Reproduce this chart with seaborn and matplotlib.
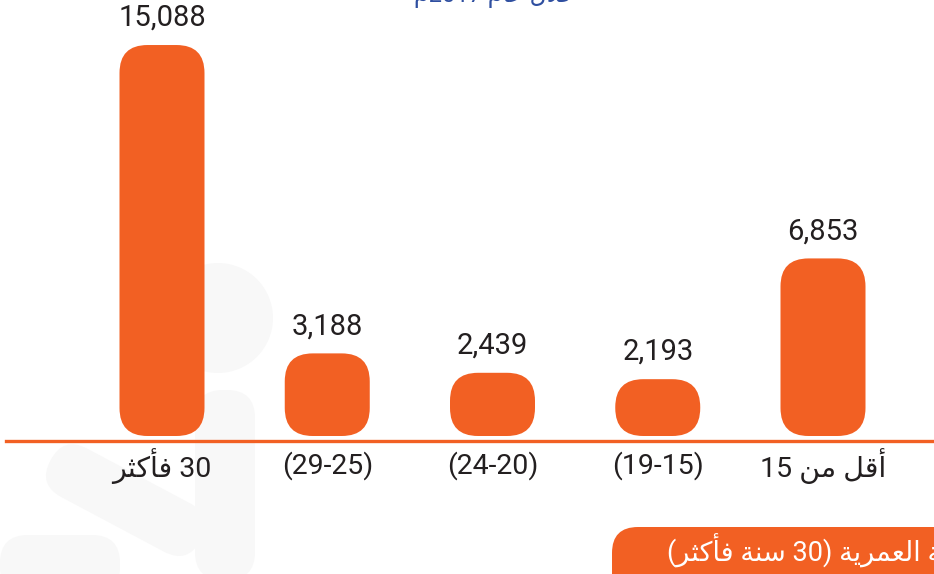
import matplotlib
matplotlib.use("Agg")
import matplotlib.pyplot as plt
from matplotlib.patches import FancyBboxPatch, Circle
from matplotlib.lines import Line2D
import matplotlib.transforms as mtransforms
import seaborn as sns
import pandas as pd

# ---------------- data ----------------
categories = ["30 فأكثر", "(25-29)", "(20-24)", "(15-19)", "أقل من 15"]
values = [15088, 3188, 2439, 2193, 6853]
title_text = "خلال عام 2017م"
pill_text = "الفئة العمرية (30 سنة فأكثر)"

ORANGE = "#F26023"
BLUE = "#2F4FA0"
DARK = "#231F20"

# -------- minimal Arabic shaping (presentation forms, visual order) --------
FORMS = {
    "ا": ("\uFE8D", "\uFE8E", None, None),
    "أ": ("\uFE83", "\uFE84", None, None),
    "ة": ("\uFE93", "\uFE94", None, None),
    "ر": ("\uFEAD", "\uFEAE", None, None),
    "ل": ("\uFEDD", "\uFEDE", "\uFEDF", "\uFEE0"),
    "ف": ("\uFED1", "\uFED2", "\uFED3", "\uFED4"),
    "ئ": ("\uFE89", "\uFE8A", "\uFE8B", "\uFE8C"),
    "ع": ("\uFEC9", "\uFECA", "\uFECB", "\uFECC"),
    "م": ("\uFEE1", "\uFEE2", "\uFEE3", "\uFEE4"),
    "ي": ("\uFEF1", "\uFEF2", "\uFEF3", "\uFEF4"),
    "ك": ("\uFED9", "\uFEDA", "\uFEDB", "\uFEDC"),
    "ث": ("\uFE99", "\uFE9A", "\uFE9B", "\uFE9C"),
    "س": ("\uFEB1", "\uFEB2", "\uFEB3", "\uFEB4"),
    "ن": ("\uFEE5", "\uFEE6", "\uFEE7", "\uFEE8"),
    "ق": ("\uFED5", "\uFED6", "\uFED7", "\uFED8"),
    "خ": ("\uFEA5", "\uFEA6", "\uFEA7", "\uFEA8"),
}
LAMALEF = {"ا": ("\uFEFB", "\uFEFC"), "أ": ("\uFEF7", "\uFEF8")}


def shape(word):
    ch = list(word)
    n = len(ch)
    out = []
    i = 0

    def joins_next(c):
        return c in FORMS and FORMS[c][2] is not None

    while i < n:
        c = ch[i]
        prev_j = i > 0 and joins_next(ch[i - 1])
        if c == "ل" and i + 1 < n and ch[i + 1] in LAMALEF:
            lig = LAMALEF[ch[i + 1]]
            out.append(lig[1] if prev_j else lig[0])
            i += 2
            continue
        f = FORMS[c]
        can_next = f[2] is not None and i + 1 < n and ch[i + 1] in FORMS
        if prev_j and can_next:
            g = f[3]
        elif prev_j:
            g = f[1]
        elif can_next:
            g = f[2]
        else:
            g = f[0]
        out.append(g)
        i += 1
    return "".join(out)


def vis(word):
    return shape(word)[::-1]


tick_labels = [
    vis("فأكثر") + " 30",
    "(29-25)",
    "(24-20)",
    "(19-15)",
    "15 " + vis("من") + " " + vis("أقل"),
]
title_vis = vis("م") + "2017 " + vis("عام") + " " + vis("خلال")
pill_vis = "(" + vis("فأكثر") + " " + vis("سنة") + " 30) " + vis("العمرية") + " " + vis("الفئة")

# ---------------- figure ----------------
W, H = 934, 574
fig = plt.figure(figsize=(W / 100, H / 100), dpi=100)
fig.patch.set_facecolor("white")

# background / pixel overlay axes
bg = fig.add_axes([0, 0, 1, 1], zorder=0)
bg.set_xlim(0, W)
bg.set_ylim(H, 0)
bg.axis("off")

WM = "#F8F8F8"
bg.add_patch(Circle((218, 318), 55, fc=WM, ec="none"))
bg.add_patch(FancyBboxPatch((195, 390), 60, 190, boxstyle="round,pad=0,rounding_size=28",
                            fc=WM, ec="none"))
bg.add_patch(FancyBboxPatch((40, 470), 170, 55, boxstyle="round,pad=0,rounding_size=27",
                            fc=WM, ec="none",
                            transform=mtransforms.Affine2D().rotate_deg_around(120, 500, 28) + bg.transData))
bg.add_patch(FancyBboxPatch((0, 535), 120, 60, boxstyle="round,pad=0,rounding_size=28",
                            fc=WM, ec="none"))

# main axes (data)
PX_PER_UNIT = 0.025913
BASE_PX = 436.0
X0_PX = 162.0
STEP_PX = 165.25


def yval(px):
    return (BASE_PX - px) / PX_PER_UNIT


ax = fig.add_axes([0, 0, 1, 1], zorder=1)
ax.patch.set_alpha(0)
df = pd.DataFrame({"cat": categories, "value": values})
sns.barplot(data=df, x="cat", y="value", order=categories, color=ORANGE,
            saturation=1, width=85 / STEP_PX, ax=ax)
ax.set_xlim(-X0_PX / STEP_PX, (W - X0_PX) / STEP_PX)
ax.set_ylim(yval(H), yval(0))
ax.axis("off")

xu_per_px = 1 / STEP_PX
yu_per_px = 1 / PX_PER_UNIT
for p in list(ax.patches):
    x, y, w, h = p.get_x(), p.get_y(), p.get_width(), p.get_height()
    p.remove()
    h_px = h * PX_PER_UNIT
    r_px = min(28, h_px / 2, 85 / 2)
    ax.add_patch(FancyBboxPatch((x, y), w, h,
                                boxstyle=f"round,pad=0,rounding_size={r_px * xu_per_px}",
                                mutation_aspect=yu_per_px / xu_per_px,
                                fc=ORANGE, ec="none"))

num_font = ["Roboto", "DejaVu Sans"]
for i, v in enumerate(values):
    ax.annotate(f"{v:,}", xy=(i, v), xytext=(0, 19.5), textcoords="offset points",
                ha="center", va="center", fontsize=21, color=DARK, family=num_font)
    ax.text(i, yval(466), tick_labels[i], ha="center", va="center",
            fontsize=20.5, color=DARK, family=num_font)

# baseline
fig.add_artist(Line2D([6 / W, 1], [1 - 441 / H, 1 - 441 / H], color=ORANGE, lw=2.4,
                      transform=fig.transFigure))

# bottom pill
bg.add_patch(FancyBboxPatch((612, 527), 420, 90, boxstyle="round,pad=0,rounding_size=26",
                            fc=ORANGE, ec="none"))
bg.text(667, 551, pill_vis, ha="left", va="center", fontsize=19.5, color="white",
        family=num_font)

# top title (cut off)
bg.text(495, 2, title_vis, ha="center", va="baseline", fontsize=17, color=BLUE,
        family=num_font)

fig.savefig("out.png", dpi=100)
